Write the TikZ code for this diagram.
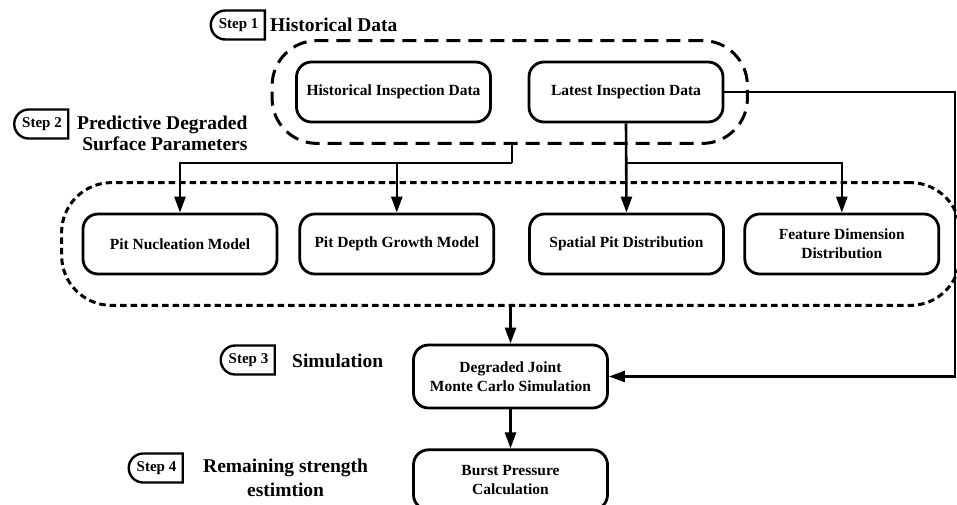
\documentclass[tikz,border=0pt]{standalone}
\usepackage{fontspec}
\setmainfont{Liberation Serif}
\usepackage{tikz}
\usetikzlibrary{shapes, shapes.misc, arrows.meta, positioning, calc, fit}
\tikzset{
    box/.style={
        rectangle, draw, line width=2.8pt,
        rounded corners=15pt, align=center,
        minimum width=194pt, minimum height=60pt,
        font=\fontsize{15.5}{19}\selectfont\bfseries
    },
    steptag/.style={
        rounded rectangle, rounded rectangle right arc=none,
        draw, line width=2.4pt, inner xsep=3pt,
        minimum width=60pt, minimum height=29pt,
        font=\fontsize{15}{17}\selectfont\bfseries
    },
    heading/.style={inner sep=0pt, font=\fontsize{19.5}{21}\selectfont\bfseries},
    % Group Styles
    groupA/.style={draw, line width=3pt, dash pattern=on 14pt off 8pt, rounded corners=45pt},
    groupB/.style={draw, line width=3pt, dash pattern=on 6.5pt off 4pt, rounded corners=50pt},
    line/.style={draw, line width=2.6pt},
    arrow/.style={line width=2.6pt, -{Triangle[length=16pt, width=11pt]}}
}
\begin{document}
\begin{tikzpicture}[x=1pt, y=-1pt]
        \useasboundingbox (0,0) rectangle (957,504);

        % Nodes
        \node [box] (hist) at (393.5,92) {Historical Inspection Data};
        \node [box] (latest) at (626,92) {Latest Inspection Data};
        \node [box] (nucl) at (180,244) {Pit Nucleation Model};
        \node [box, right=20pt of nucl] (growth) {Pit Depth Growth Model};
        \node [box] (spatial) at (626.5,244) {Spatial Pit Distribution};
        \node [box, right=18.5pt of spatial] (feature) {Feature Dimension\\Distribution};
        \node [box, minimum height=63pt] (sim) at (510.5,376.5) {Degraded Joint\\Monte Carlo Simulation};
        \node [box, below=39pt of sim] (burst) {Burst Pressure\\Calculation};

        % Groups
        \node [groupA, fit=(hist)(latest), inner xsep=23pt, inner ysep=20pt] (grpA) {};
        \node [groupB, fit=(nucl)(feature), inner xsep=20pt, inner ysep=30pt] (grpB) {};

        % Steps
        \node [heading, anchor=west] (hd1) at (270,25) {Historical Data};
        \node [steptag, left=4pt of hd1] (tag1) {Step 1};
        \node [heading, anchor=north west, align=right] (hd2) at (77,116) {Predictive Degraded\\Surface Parameters};
        \node [steptag] (tag2) at (42,124) {Step 2};
        \node [heading, anchor=west] (hd3) at (292,361) {Simulation};
        \node [steptag] (tag3) at (248.5,360) {Step 3};
        \node [heading, anchor=north west, align=center] (hd4) at (203,459) {Remaining strength\\[3pt]estimtion};
        \node [steptag] (tag4) at (156.5,468) {Step 4};

        % Edges
        \coordinate (splitA) at (512,163);
        \coordinate (rim) at (955,0);
        \draw [line] (grpA.south -| splitA) -- (splitA);
        \draw [arrow] (splitA) -| (nucl.north);
        \draw [arrow] (splitA -| growth.north) -- (growth.north);
        \draw [arrow] (latest.south) -- (spatial.north);
        \draw [arrow] (latest.south |- splitA) -| (feature.north);
        \draw [arrow] (grpB.south -| sim.north) -- (sim.north);
        \draw [arrow] (sim) -- (burst);
        \draw [arrow] (latest.east) -- (latest.east -| rim) |- (sim.east);

    \end{tikzpicture}
\end{document}
